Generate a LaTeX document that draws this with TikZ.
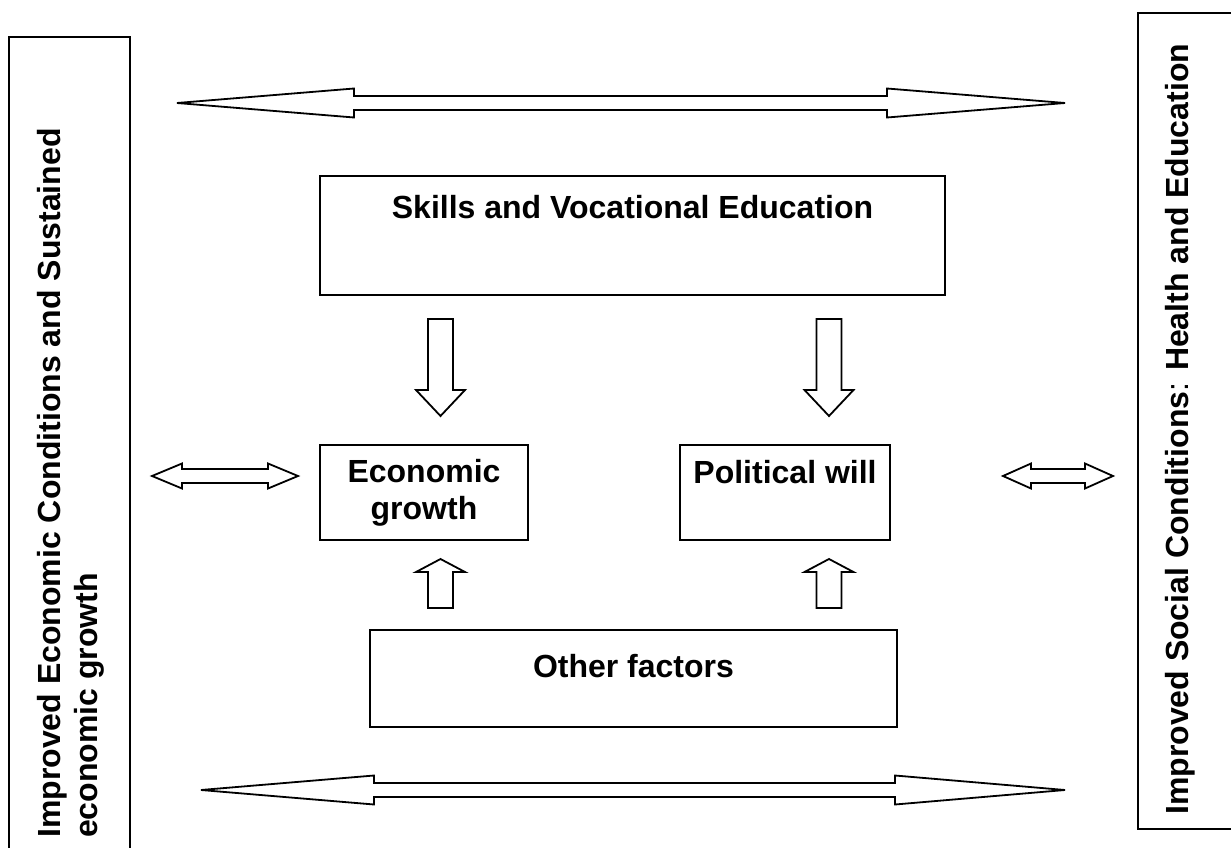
\documentclass[tikz,border=0pt]{standalone}
\usepackage{fontspec}
\setmainfont{Liberation Sans}
\usetikzlibrary{positioning}

\begin{document}
\begin{tikzpicture}[x=1pt,y=-1pt,
    every node/.style={font=\fontsize{32}{37}\selectfont\bfseries},
    box/.style={draw,line width=1.8pt,inner sep=0pt},
    blk/.style={draw,line width=1.8pt,line join=miter,fill=white},
    txt/.style={anchor=center,yshift=#1}]
  \useasboundingbox (0,0) rectangle (1231,848);
  \clip (0,0) rectangle (1231,848);

  % side boxes, running off the page
  \node[box,anchor=north west,minimum width=121pt,minimum height=830pt] (econcond) at (8,36) {};
  \node[box,anchor=north west,minimum width=110pt,minimum height=816pt] (soccond) at (1137,12) {};
  \node[rotate=90,anchor=north west,align=left,inner sep=0pt] (econtext) at (37,838)
    {Improved Economic Conditions and Sustained\\economic growth};
  \node[rotate=90,anchor=north west,inner sep=0pt] (soctext) at (1165,815)
    {Improved Social Conditions{\mdseries:} Health and Education};

  % middle boxes
  \node[box,minimum width=625pt,minimum height=119pt,
    label={[txt=-32pt]north:Skills and Vocational Education}] (skills) at (632.5,235.5) {};
  \node[box,minimum width=208pt,minimum height=95pt,align=center] (econ) at (424,492.5)
    {Economic\\growth};
  \node[box,minimum width=210pt,minimum height=95pt,
    label={[txt=-28pt]north:Political will}] (polit) at (785,492.5) {};
  \node[box,minimum width=527pt,minimum height=97pt,
    label={[txt=-37pt]north:Other factors}] (other) at (633.5,678.5) {};

  % block arrows
  \foreach \xa/\ba/\bb/\xb/\y/\hh in {177/354/887/1065/103/14.5,201/374/895/1065/790/14.5,
      152/182/268/298/476/12.5,1003/1031/1085/1113/476/12.5} {
    \draw[blk] (\xa,\y) -- (\ba,\y-\hh) -- (\ba,\y-7) -- (\bb,\y-7) -- (\bb,\y-\hh) -- (\xb,\y)
      -- (\bb,\y+\hh) -- (\bb,\y+7) -- (\ba,\y+7) -- (\ba,\y+\hh) -- cycle;
  }
  \foreach \cx/\ta/\hb/\tp in {440.5/319/390/416,829/319/390/416,440.5/608/572/559,829/608/572/559} {
    \draw[blk] (\cx-12.5,\ta) -- (\cx-12.5,\hb) -- (\cx-24.5,\hb) -- (\cx,\tp)
      -- (\cx+24.5,\hb) -- (\cx+12.5,\hb) -- (\cx+12.5,\ta) -- cycle;
  }
\end{tikzpicture}
\end{document}
